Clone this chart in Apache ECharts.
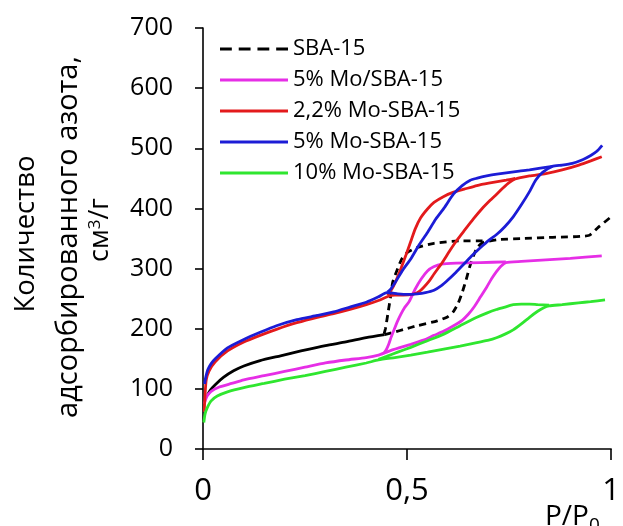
<!DOCTYPE html>
<html>
<head>
<meta charset="utf-8">
<script src="https://cdn.jsdelivr.net/npm/echarts@6/dist/echarts.min.js"></script>
<style>html,body{margin:0;padding:0;background:#fff}#c{width:623px;height:526px}</style>
</head>
<body>
<div id="c"></div>
<script>
// ---- data: [P/P0, volume cm3/g] ----
const seriesNames = ['SBA-15', '5% Mo/SBA-15', '2,2% Mo-SBA-15', '5% Mo-SBA-15', '10% Mo-SBA-15'];
const xTicks = [0, 0.5, 1];
const yTicks = [0, 100, 200, 300, 400, 500, 600, 700];

// SBA-15
const sbaLow = [[0.011,90],[0.018,98],[0.03,107],[0.05,119],[0.075,130],[0.1,138],[0.14,147],[0.19,155],[0.24,163],[0.3,172],[0.35,178],[0.4,185],[0.445,190]];
const sbaAds = [[0.445,190],[0.473,195],[0.493,199],[0.525,205],[0.574,213],[0.6,220],[0.614,229],[0.625,242],[0.635,260],[0.645,282],[0.653,302],[0.662,320],[0.672,335],[0.685,343],[0.72,348],[0.785,350],[0.857,352],[0.945,355],[0.969,369],[0.998,385]];
const sbaDes = [[0.685,346],[0.63,346],[0.566,342],[0.525,335],[0.501,327],[0.487,316],[0.477,300],[0.465,278],[0.46,255],[0.453,225],[0.447,200],[0.443,190]];

// 5% Mo/SBA-15
const moImpAds = [[0.003,75],[0.01,88],[0.02,96],[0.04,103],[0.07,109],[0.1,115],[0.15,122],[0.2,129],[0.25,136],[0.3,143],[0.35,148],[0.4,152],[0.43,156],[0.453,162],[0.48,168],[0.509,174],[0.54,181],[0.566,189],[0.59,196],[0.614,205],[0.635,214],[0.65,224],[0.665,237],[0.68,253],[0.695,269],[0.707,283],[0.719,295],[0.73,304],[0.742,310],[0.78,312],[0.84,314.5],[0.9,317],[0.977,321]];
const moImpDes = [[0.742,311],[0.68,310],[0.62,309],[0.585,307.5],[0.565,303],[0.55,296],[0.535,283],[0.52,266],[0.505,245],[0.493,234],[0.484,223],[0.477,213],[0.468,198],[0.461,186],[0.455,174],[0.449,165],[0.443,159]];

// 2,2% Mo-SBA-15
const mo22Ads = [[0.003,62],[0.005,90],[0.008,115],[0.015,130],[0.03,145],[0.06,163],[0.1,178],[0.14,189],[0.18,199],[0.23,210],[0.28,219],[0.32,225],[0.36,232],[0.4,240],[0.43,247],[0.455,254],[0.47,256],[0.49,256],[0.517,258],[0.53,262],[0.541,269],[0.555,280],[0.566,291],[0.58,304],[0.59,314],[0.605,330],[0.622,347],[0.64,363],[0.663,383],[0.683,399],[0.703,413],[0.72,424],[0.735,434],[0.75,443],[0.765,449],[0.8,454],[0.84,458],[0.88,464],[0.921,472],[0.95,479],[0.977,486]];
const mo22Des = [[0.765,450],[0.743,447],[0.7,442],[0.671,438],[0.64,432],[0.614,427],[0.59,420],[0.566,410],[0.55,399],[0.533,384],[0.52,366],[0.509,345],[0.497,322],[0.485,300],[0.473,280],[0.462,265],[0.452,256]];

// 5% Mo-SBA-15
const mo5Ads = [[0.004,108],[0.006,117],[0.012,132],[0.02,142],[0.03,150],[0.06,168],[0.1,182],[0.14,194],[0.18,205],[0.23,215],[0.28,222],[0.32,228],[0.36,236],[0.4,244],[0.43,253],[0.45,260],[0.465,259],[0.477,258],[0.5,257],[0.525,258],[0.545,260],[0.566,264],[0.585,272],[0.6,281],[0.62,294],[0.64,308],[0.66,322],[0.68,335],[0.7,347],[0.72,357],[0.74,370],[0.76,386],[0.78,406],[0.8,428],[0.815,447],[0.832,460],[0.856,470],[0.88,472],[0.905,475],[0.93,481],[0.95,488],[0.965,495],[0.978,505]];
const mo5Des = [[0.856,470],[0.8,464],[0.775,462],[0.72,457],[0.695,454],[0.67,450],[0.655,447],[0.635,438],[0.614,424],[0.59,400],[0.57,382],[0.55,360],[0.53,340],[0.509,316],[0.49,298],[0.47,276],[0.46,266],[0.452,261]];

// 10% Mo-SBA-15
const mo10Ads = [[0.002,44],[0.005,58],[0.01,68],[0.02,80],[0.035,88],[0.06,95],[0.1,102],[0.15,109],[0.2,116],[0.25,122],[0.3,129],[0.35,136],[0.4,143],[0.43,148],[0.47,152],[0.509,156],[0.55,161],[0.59,166],[0.63,171],[0.671,177],[0.7,181],[0.719,185],[0.74,191],[0.76,198],[0.78,208],[0.8,219],[0.82,229],[0.835,235],[0.848,238],[0.88,240],[0.92,243],[0.95,245],[0.985,248]];
const mo10Des = [[0.848,239],[0.82,240],[0.8,241],[0.78,241],[0.76,240],[0.74,236],[0.719,232],[0.695,226],[0.671,219],[0.63,205],[0.59,191],[0.55,180],[0.509,169],[0.477,161],[0.45,154],[0.43,149]];

const colors = ['#000000', '#e62ee6', '#e31a1c', '#1c1cd6', '#2fe62f'];
const FONT = 'Open Sans';
const dashIcon = 'path://M0,0h12v3h-12z M19,0h12v3h-12z M38,0h12v3h-12z M57,0h12v3h-12z';

function line(name, data, color, dashed) {
  return {
    name: name, type: 'line', data: data, symbol: 'none', smooth: 0.2,
    lineStyle: { color: color, width: 2.8, type: dashed ? [7, 5] : 'solid' },
    itemStyle: { color: color }, z: 3, silent: true
  };
}

const chart = echarts.init(document.getElementById('c'), null, { renderer: 'canvas' });
chart.setOption({
  animation: false,
  backgroundColor: '#fff',
  grid: { left: 203, right: 7, top: 28, bottom: 77, containLabel: false },
  legend: {
    data: seriesNames.map((n, i) => ({ name: n, icon: i === 0 ? dashIcon : 'rect', itemStyle: { color: colors[i] } })),
    orient: 'vertical', left: 215, top: 33,
    itemWidth: 68, itemHeight: 3, itemGap: 9, itemTextGap: 7,
    textStyle: { fontFamily: FONT, fontSize: 22, color: '#000', lineHeight: 22 },
    selectedMode: false
  },
  xAxis: {
    type: 'value', min: 0, max: 1, interval: 0.5,
    axisLine: { show: true, lineStyle: { color: '#000', width: 1.6 } },
    axisTick: { show: true, inside: false, length: 11, lineStyle: { color: '#000', width: 1.6 } },
    splitLine: { show: false },
    axisLabel: { margin: 27, fontFamily: FONT, fontSize: 31, color: '#000',
      formatter: v => xTicks.includes(v) ? String(v).replace('.', ',') : '' }
  },
  yAxis: {
    type: 'value', min: 0, max: 700, interval: 100,
    axisLine: { show: true, lineStyle: { color: '#000', width: 1.6 } },
    axisTick: { show: true, inside: false, length: 8, lineStyle: { color: '#000', width: 1.6 } },
    splitLine: { show: false },
    axisLabel: { margin: 30, fontFamily: FONT, fontSize: 25, color: '#000',
      formatter: v => yTicks.includes(v) ? String(v) : '' }
  },
  graphic: [
    { type: 'text', x: 26, y: 234, rotation: Math.PI / 2,
      style: { text: 'Количество', fontFamily: FONT, fontSize: 27.5, fill: '#000', align: 'center', verticalAlign: 'middle', textAlign: 'center', textVerticalAlign: 'middle' } },
    { type: 'text', x: 69, y: 237, rotation: Math.PI / 2,
      style: { text: 'адсорбированного азота,', fontFamily: FONT, fontSize: 29, fill: '#000', align: 'center', verticalAlign: 'middle', textAlign: 'center', textVerticalAlign: 'middle' } },
    { type: 'text', x: 100, y: 230, rotation: Math.PI / 2,
      style: { text: '{a|см}{s|3}{a|/г}', fontFamily: FONT, fontSize: 27, fill: '#000', align: 'center', verticalAlign: 'middle', textAlign: 'center', textVerticalAlign: 'middle',
        rich: { a: { fontFamily: FONT, fontSize: 27, fill: '#000', color: '#000' }, s: { fontFamily: FONT, fontSize: 17, fill: '#000', color: '#000', verticalAlign: 'top' } } } },
    { type: 'text', x: 545, y: 503,
      style: { text: 'P/P', fontFamily: FONT, fontSize: 28, fill: '#000', align: 'left', verticalAlign: 'top', textAlign: 'left', textVerticalAlign: 'top' } },
    { type: 'text', x: 589, y: 516,
      style: { text: '0', fontFamily: FONT, fontSize: 19, fill: '#000', align: 'left', verticalAlign: 'top', textAlign: 'left', textVerticalAlign: 'top' } }
  ],
  series: [
    line(seriesNames[0], sbaAds, colors[0], true),
    line(seriesNames[0], sbaDes, colors[0], true),
    line('SBA-15 (low)', sbaLow, colors[0], false),
    line(seriesNames[1], moImpAds, colors[1], false),
    line(seriesNames[1], moImpDes, colors[1], false),
    line(seriesNames[2], mo22Ads, colors[2], false),
    line(seriesNames[2], mo22Des, colors[2], false),
    line(seriesNames[3], mo5Ads, colors[3], false),
    line(seriesNames[3], mo5Des, colors[3], false),
    line(seriesNames[4], mo10Ads, colors[4], false),
    line(seriesNames[4], mo10Des, colors[4], false)
  ]
});
</script>
</body>
</html>
